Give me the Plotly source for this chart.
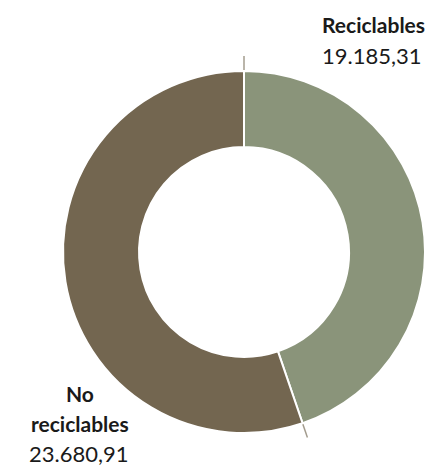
import math
import plotly.graph_objects as go

labels = ["Reciclables", "No reciclables"]
values = [19185.31, 23680.91]
value_text = ["19.185,31", "23.680,91"]
label_lines = [["Reciclables"], ["No", "reciclables"]]
colors = ["#8A947A", "#736650"]

W, H = 427, 466
cx, cy, r = 244, 252, 181

fig = go.Figure(go.Pie(
    labels=labels, values=values, hole=0.58, sort=False,
    direction="clockwise", rotation=0,
    marker=dict(colors=colors, line=dict(color="white", width=2)),
    textinfo="none", hoverinfo="label+value", showlegend=False,
    domain=dict(x=[(cx - r) / W, (cx + r) / W], y=[1 - (cy + r) / H, 1 - (cy - r) / H]),
))

# leader lines at slice boundaries, computed from data
total = sum(values)
shapes = []
cum = 0.0
for v in values:
    ang = 2 * math.pi * cum / total
    dx, dy = math.sin(ang), -math.cos(ang)
    x0, y0 = cx + dx * (r + 1), cy + dy * (r + 1)
    x1, y1 = cx + dx * (r + 15), cy + dy * (r + 15)
    shapes.append(dict(type="line", xref="paper", yref="paper",
                       x0=x0 / W, y0=1 - y0 / H, x1=x1 / W, y1=1 - y1 / H,
                       line=dict(color="#A39C8E", width=1.5)))
    cum += v

lab_font = dict(family="Lato, sans-serif", size=21, color="#1a1a1a", weight=700)
num_font = dict(family="Lato, sans-serif", size=22, color="#1a1a1a", weight=400)

def ann(x, y, text, font):
    return dict(x=x / W, y=1 - y / H, xref="paper", yref="paper", showarrow=False,
                xanchor="center", yanchor="middle", text=text, font=font, align="center")

annotations = [
    ann(373, 24, label_lines[0][0], lab_font),
    ann(372, 55, value_text[0], num_font),
    ann(80, 393, label_lines[1][0], lab_font),
    ann(80, 423, label_lines[1][1], lab_font),
    ann(79, 453, value_text[1], num_font),
]

fig.update_layout(width=W, height=H, margin=dict(l=0, r=0, t=0, b=0),
                  paper_bgcolor="white", plot_bgcolor="white",
                  shapes=shapes, annotations=annotations)
fig.write_html("out.html")
